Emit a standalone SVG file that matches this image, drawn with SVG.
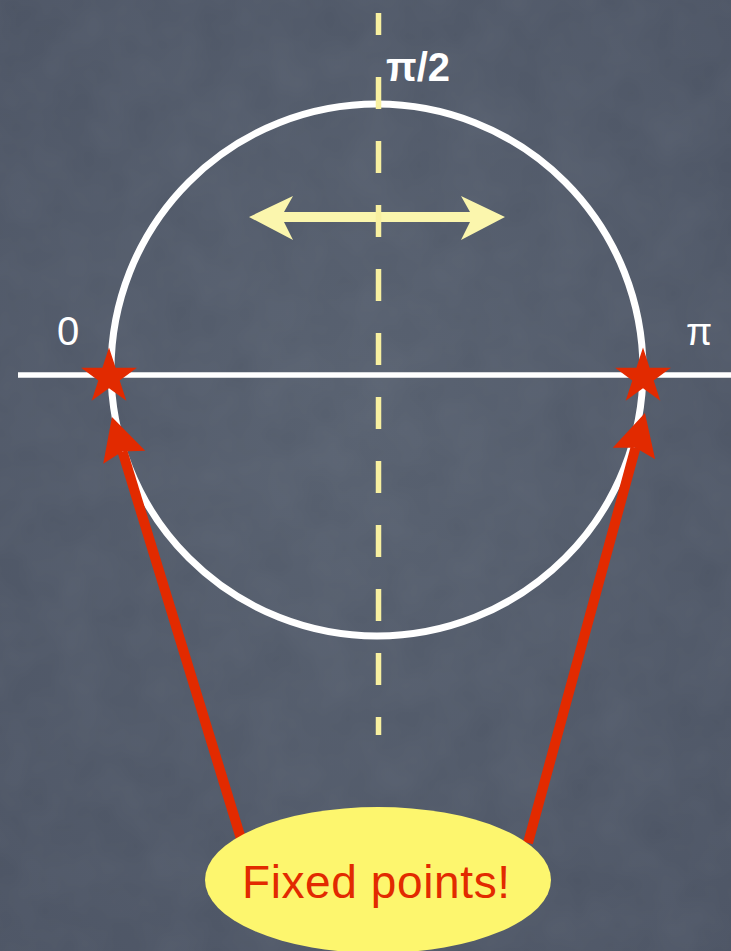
<svg xmlns="http://www.w3.org/2000/svg" width="731" height="951" viewBox="0 0 731 951">
  <defs>
    <style>
      .lbl { font-family: "Liberation Sans", "DejaVu Sans", sans-serif; fill: #ffffff; }
      .white { fill: none; stroke: #ffffff; }
      .dash { stroke: #f8f0a0; stroke-width: 5.5; fill: none; }
      .red { stroke: #e22a00; stroke-width: 10; fill: none; }
      .star { fill: #e22a00; }
    </style>
    <radialGradient id="bg" cx="50%" cy="45%" r="75%">
      <stop offset="0" stop-color="#565f6e"/>
      <stop offset="1" stop-color="#4a5262"/>
    </radialGradient>
    <filter id="chalk" x="0" y="0" width="100%" height="100%">
      <feTurbulence type="fractalNoise" baseFrequency="0.02" numOctaves="3" seed="4" result="n"/>
      <feColorMatrix in="n" type="matrix" values="0 0 0 0 0.6  0 0 0 0 0.65  0 0 0 0 0.72  0 0 0 0.08 0"/>
    </filter>
    <marker id="redHead" markerUnits="userSpaceOnUse" markerWidth="50" markerHeight="50" viewBox="-2 -25 48 50" refX="6" refY="0" orient="auto">
      <path d="M42,0 L0,-22 L6,0 L0,22 Z" fill="#e22a00"/>
    </marker>
  </defs>

  <rect width="731" height="951" fill="url(#bg)"/>
  <rect width="731" height="951" filter="url(#chalk)"/>

  <g id="unit-circle">
    <circle class="white" cx="377" cy="370" r="266" stroke-width="7"/>
  </g>

  <g id="axis">
    <line class="white" x1="18" y1="375" x2="731" y2="375" stroke-width="5.5"/>
  </g>

  <g id="motion-arrow">
    <polygon fill="#fbf6ad" points="249,217 293,196 284,212 470,212 461,196 505,217 461,240 470,222 284,222 293,240"/>
  </g>

  <g id="vertical-dashed">
    <line class="dash" x1="378.5" y1="13" x2="378.5" y2="35"/>
    <line class="dash" x1="378.5" y1="77" x2="378.5" y2="735" stroke-dasharray="32 32"/>
  </g>

  <g id="label-0">
    <text class="lbl" x="68" y="345" font-size="40" text-anchor="middle">0</text>
  </g>
  <g id="label-pi">
    <text class="lbl" x="699" y="345" font-size="38" text-anchor="middle">π</text>
  </g>
  <g id="label-pi-2">
    <text class="lbl" x="386" y="81" font-size="40" font-weight="bold">π/2</text>
  </g>

  <g id="connectors">
    <line class="red" x1="242" y1="842" x2="122.5" y2="451.5" marker-end="url(#redHead)"/>
    <line class="red" x1="528" y1="843" x2="635.5" y2="447.7" marker-end="url(#redHead)"/>
  </g>

  <g id="fixed-point-0">
    <polygon class="star" transform="translate(109,377) scale(1.05)" points="0,-28 6.3,-8.7 26.6,-8.7 10.2,3.3 16.5,22.7 0,10.7 -16.5,22.7 -10.2,3.3 -26.6,-8.7 -6.3,-8.7"/>
  </g>
  <g id="fixed-point-pi">
    <polygon class="star" transform="translate(643,377) scale(1.05)" points="0,-28 6.3,-8.7 26.6,-8.7 10.2,3.3 16.5,22.7 0,10.7 -16.5,22.7 -10.2,3.3 -26.6,-8.7 -6.3,-8.7"/>
  </g>

  <g id="fixed-points-callout">
    <ellipse cx="378" cy="880" rx="173" ry="73" fill="#fdf66e"/>
    <text x="376" y="898" font-family="'Liberation Sans', 'DejaVu Sans', sans-serif" font-size="46" fill="#e22a00" text-anchor="middle" textLength="268" lengthAdjust="spacing">Fixed points!</text>
  </g>
</svg>
